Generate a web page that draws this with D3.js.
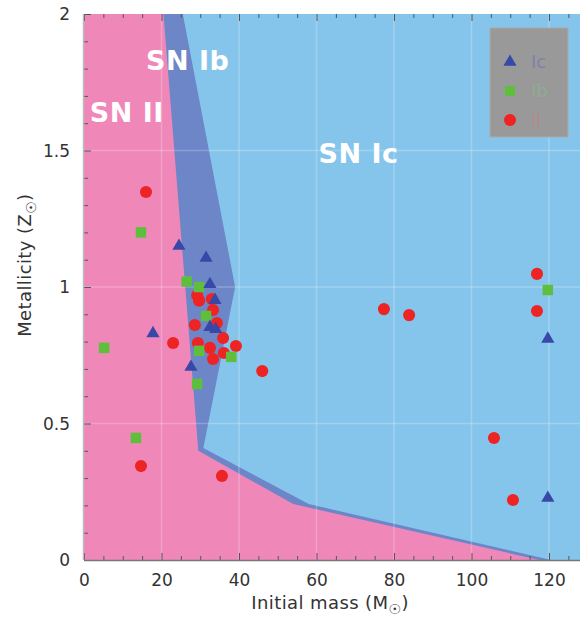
<!DOCTYPE html>
<html><head><meta charset="utf-8">
<script src="https://cdn.jsdelivr.net/npm/d3@7"></script>
<style>body{margin:0;background:#fff}svg{display:block}</style>
</head><body>
<script>
// ---- data ----
const xTicks = [0, 20, 40, 60, 80, 100, 120];
const yTicks = [0, 0.5, 1, 1.5, 2];
const yTickLabels = ["0", "0.5", "1", "1.5", "2"];
// region boundaries (mass, metallicity)
const regionII = [[0,2],[20.5,2],[29.5,0.40],[54,0.205],[117.5,0],[0,0]];
const regionIb = [[0,2],[20.5,2],[25.5,2],[39,1.0],[30.8,0.41],[58,0.205],[120.5,0],[0,0]];
const regionLabels = [
  {text:"SN II", x:1.5, y:1.605},
  {text:"SN Ib", x:16, y:1.795},
  {text:"SN Ic", x:60.5, y:1.455}
];
// observed SNe
const icMass = [24.5,31.5,17.8,32.5,33.8,32.5,34,27.6,119.7,119.7];
const icZ    = [1.15,1.106,0.83,1.01,0.952,0.853,0.845,0.707,0.81,0.227];
const ibMass = [14.7,5.2,13.4,26.5,29.7,31.5,29.7,38,29.2,119.7];
const ibZ    = [1.20,0.777,0.447,1.02,1.0,0.894,0.766,0.744,0.645,0.989];
const iiMass = [16,14.7,35.6,23,29.2,29.7,33,33.3,34.3,28.6,35.9,29.4,39.2,32.5,36.1,33.3,46,77.4,83.9,116.9,116.9,105.8,110.7];
const iiZ    = [1.348,0.344,0.308,0.795,0.97,0.95,0.956,0.916,0.868,0.861,0.813,0.795,0.784,0.777,0.758,0.736,0.692,0.919,0.897,1.048,0.912,0.447,0.22];
const legendItems = [{label:"Ic", shape:"tri"},{label:"Ib", shape:"sq"},{label:"II", shape:"circ"}];

// ---- drawing ----
const W=580,H=619;
const colors = {ic:"#86c5eb", ib:"#6c86c8", ii:"#ef88b9", tri:"#3848a8", sq:"#5dbf3b", circ:"#ee2424"};
const svg = d3.select("body").append("svg").attr("width",W).attr("height",H);
const x = d3.scaleLinear().domain([0,130]).range([84, 84+130*3.875]);
const y = d3.scaleLinear().domain([0,2]).range([560,14]);
const x0=x(0), x1=x(130), y0=y(0), y1=y(2);

svg.append("defs").append("clipPath").attr("id","clip")
  .append("rect").attr("x",x0).attr("y",y1).attr("width",x1-x0).attr("height",y0-y1);
const plot = svg.append("g").attr("clip-path","url(#clip)");
plot.append("rect").attr("x",x0).attr("y",y1).attr("width",x1-x0).attr("height",y0-y1).attr("fill",colors.ic);
const line = d3.line().x(d=>x(d[0])).y(d=>y(d[1]));
plot.append("path").attr("d",line(regionIb)+"Z").attr("fill",colors.ib);
plot.append("path").attr("d",line(regionII)+"Z").attr("fill",colors.ii);

// grid
plot.selectAll(".gx").data(xTicks.slice(1)).join("line")
  .attr("x1",d=>x(d)).attr("x2",d=>x(d)).attr("y1",y1).attr("y2",y0)
  .attr("stroke","#fff").attr("stroke-opacity",0.22).attr("stroke-width",1.5);
plot.selectAll(".gy").data(yTicks.slice(1,-1)).join("line")
  .attr("y1",d=>y(d)).attr("y2",d=>y(d)).attr("x1",x0).attr("x2",x1)
  .attr("stroke","#fff").attr("stroke-opacity",0.22).attr("stroke-width",1.5);

// region labels
plot.selectAll(".rl").data(regionLabels).join("text")
  .attr("x",d=>x(d.x)).attr("y",d=>y(d.y))
  .attr("fill","#fff").attr("font-family","DejaVu Sans, sans-serif").attr("font-weight","bold")
  .attr("font-size",27).attr("letter-spacing","0.5").text(d=>d.text);

// axes
const tickCol="#555";
const xAxisB = d3.axisBottom(x).tickValues(xTicks).tickSize(-7).tickPadding(14).tickFormat(d3.format("d"));
const gxb = svg.append("g").attr("transform",`translate(0,${y0})`).call(xAxisB);
const xMinor = d3.range(0,131,5).filter(v=>v%20!==0);
const gxbm = svg.append("g").attr("transform",`translate(0,${y0})`).call(d3.axisBottom(x).tickValues(xMinor).tickSize(-4).tickFormat(""));
const gxt = svg.append("g").attr("transform",`translate(0,${y1})`).call(d3.axisTop(x).tickValues(xTicks).tickSize(-7).tickFormat(""));
const gxtm = svg.append("g").attr("transform",`translate(0,${y1})`).call(d3.axisTop(x).tickValues(xMinor).tickSize(-4).tickFormat(""));
const yAxisL = d3.axisLeft(y).tickValues(yTicks).tickSize(-7).tickPadding(14).tickFormat((d,i)=>yTickLabels[i]);
const gyl = svg.append("g").attr("transform",`translate(${x0},0)`).call(yAxisL);
const yMinor = d3.range(0,21).map(v=>v/10).filter(v=>Math.round(v*10)%5!==0);
const gylm = svg.append("g").attr("transform",`translate(${x0},0)`).call(d3.axisLeft(y).tickValues(yMinor).tickSize(-4).tickFormat(""));
[gxb,gxbm,gxt,gxtm,gyl,gylm].forEach(g=>{
  g.selectAll(".tick line").attr("stroke",tickCol).attr("stroke-width",1);
  g.select(".domain").remove();
  g.selectAll("text").attr("font-family","DejaVu Sans, sans-serif").attr("font-size",17).attr("fill","#333");
});
gyl.selectAll("text").attr("dy","0.35em");
svg.append("line").attr("x1",x0).attr("x2",x1).attr("y1",y0+0.5).attr("y2",y0+0.5).attr("stroke","#777").attr("stroke-width",1.5);
svg.append("line").attr("x1",x0-0.5).attr("x2",x0-0.5).attr("y1",y1).attr("y2",y0).attr("stroke","#bbb").attr("stroke-width",1.5);

// axis titles
const xt = svg.append("text").attr("x",x(63.5)).attr("y",609).attr("text-anchor","middle")
  .attr("font-family","DejaVu Sans, sans-serif").attr("font-size",18).attr("letter-spacing","0.4").attr("fill","#333");
xt.append("tspan").text("Initial mass (M");
xt.append("tspan").attr("dy",5).attr("font-size",14).text("☉");
xt.append("tspan").attr("dy",-5).text(")");
const yt = svg.append("text").attr("transform",`translate(31,${y(1.08)}) rotate(-90)`).attr("text-anchor","middle")
  .attr("font-family","DejaVu Sans, sans-serif").attr("font-size",18).attr("letter-spacing","0.4").attr("fill","#333");
yt.append("tspan").text("Metallicity (Z");
yt.append("tspan").attr("dy",5).attr("font-size",14).text("☉");
yt.append("tspan").attr("dy",-5).text(")");

// markers
const tri = d3.symbol().type(d3.symbolTriangle).size(75);
const sq = d3.symbol().type(d3.symbolSquare).size(110);
const circ = d3.symbol().type(d3.symbolCircle).size(115);
const pts = plot.append("g");
pts.selectAll(".ii").data(iiMass.map((m,i)=>[m,iiZ[i]])).join("path")
  .attr("d",circ).attr("transform",d=>`translate(${x(d[0])},${y(d[1])})`).attr("fill",colors.circ);
pts.selectAll(".ib").data(ibMass.map((m,i)=>[m,ibZ[i]])).join("path")
  .attr("d",sq).attr("transform",d=>`translate(${x(d[0])},${y(d[1])})`).attr("fill",colors.sq);
pts.selectAll(".ic").data(icMass.map((m,i)=>[m,icZ[i]])).join("path")
  .attr("d",tri).attr("transform",d=>`translate(${x(d[0])},${y(d[1])})`).attr("fill",colors.tri);

// legend
const lg = svg.append("g");
lg.append("rect").attr("x",490).attr("y",28).attr("width",78).attr("height",109)
  .attr("fill","#999").attr("stroke","#aaa").attr("stroke-width",1);
const lcol = {Ic:"#7f82a6", Ib:"#92aa92", II:"#b38c8c"};
const shp = {tri:tri, sq:d3.symbol().type(d3.symbolSquare).size(100), circ:circ};
legendItems.forEach((d,i)=>{
  const cy = 62 + i*29;
  lg.append("path").attr("d",shp[d.shape]).attr("transform",`translate(510,${cy})`).attr("fill",colors[d.shape]);
  lg.append("text").attr("x",531).attr("y",cy).attr("dy","0.36em")
    .attr("font-family","DejaVu Sans, sans-serif").attr("font-size",18).attr("fill",lcol[d.label]).text(d.label);
});
</script>
</body></html>
